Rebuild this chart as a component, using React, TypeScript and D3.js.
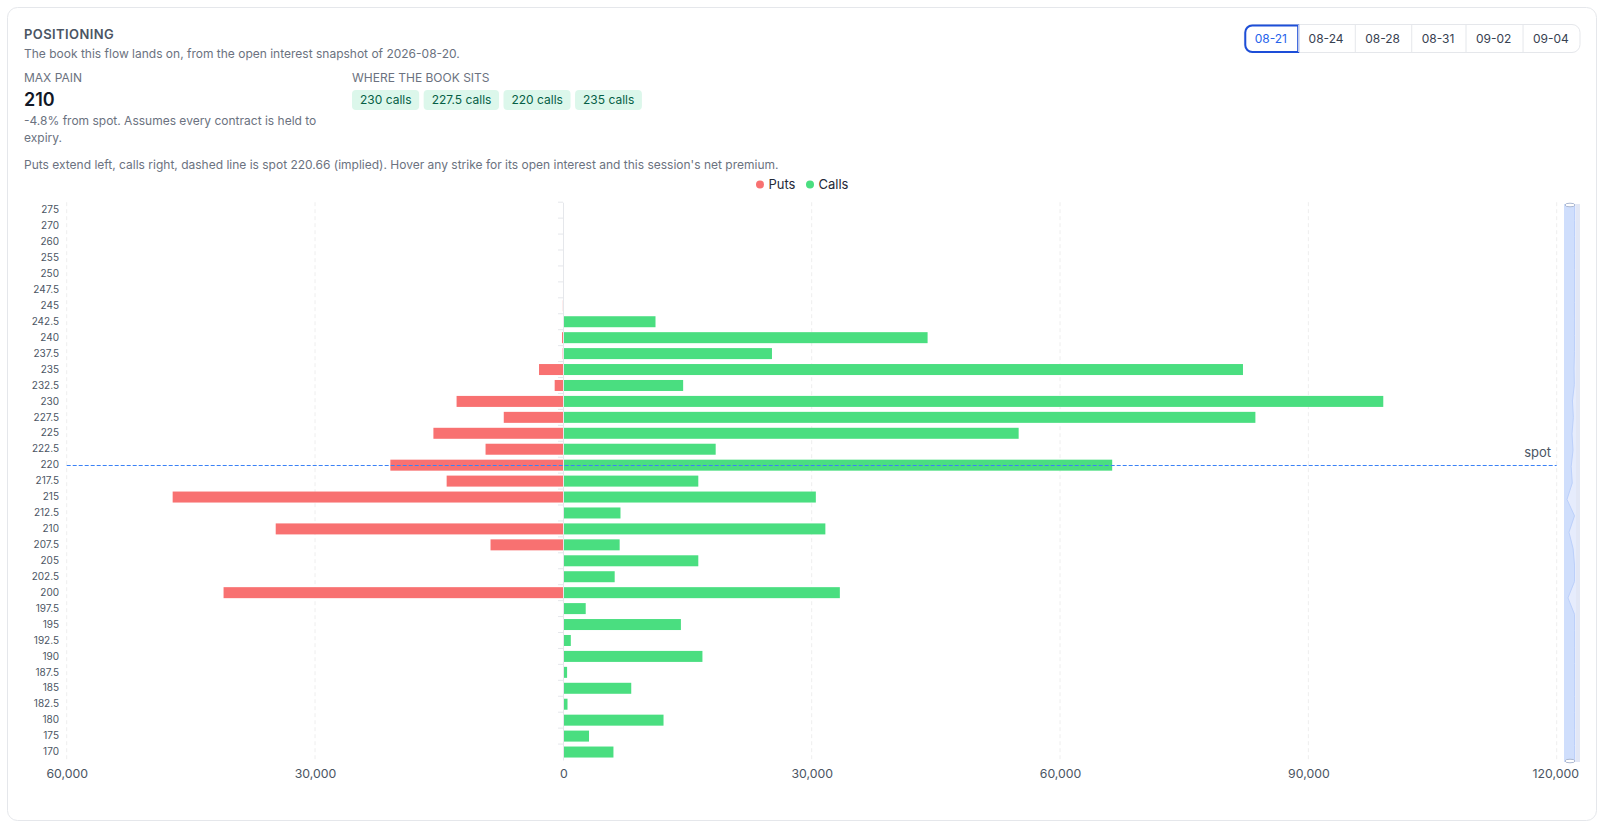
import React from 'react';
import * as d3 from 'd3';

const strikes = ['275', '270', '260', '255', '250', '247.5', '245', '242.5', '240', '237.5', '235', '232.5', '230', '227.5', '225', '222.5', '220', '217.5', '215', '212.5', '210', '207.5', '205', '202.5', '200', '197.5', '195', '192.5', '190', '187.5', '185', '182.5', '180', '175', '170'];
const putsOI = [0, 0, 0, 0, 0, 0, 60, 0, 160, 80, 2940, 1050, 12900, 7200, 15700, 9400, 20900, 14100, 47200, 0, 34750, 8800, 0, 0, 41050, 0, 0, 0, 0, 0, 0, 0, 0, 0, 0];
const callsOI = [0, 0, 0, 0, 0, 0, 0, 11130, 44000, 25200, 82100, 14470, 99050, 83600, 55000, 18400, 66300, 16300, 30500, 6900, 31650, 6800, 16300, 6200, 33400, 2700, 14200, 900, 16800, 450, 8200, 500, 12100, 3100, 6050];
const xTicks = [-60000, -30000, 0, 30000, 60000, 90000, 120000];
const expiries = ['08-21', '08-24', '08-28', '08-31', '09-02', '09-04'];
const bookPills = ['230 calls', '227.5 calls', '220 calls', '235 calls'];

const FONT = 'Inter, sans-serif';
const PUT = '#f87171';
const CALL = '#4ade80';

export default function App() {
  const svgRef = React.useRef<SVGSVGElement>(null);

  React.useEffect(() => {
    const svg = d3.select(svgRef.current);
    svg.selectAll('*').remove();
    svg.style('font-family', FONT);

    svg.append('rect')
      .attr('x', 7.5).attr('y', 7.5).attr('width', 1589).attr('height', 813).attr('rx', 10)
      .attr('fill', '#fff').attr('stroke', '#e5e7eb');

    const text = (x: number, y: number, s: string, size: number, fill: string, weight = 400) =>
      svg.append('text')
        .attr('x', x).attr('y', y).attr('dy', '0.35em')
        .attr('font-size', size).attr('font-weight', weight).attr('fill', fill).text(s);

    text(24, 34, 'POSITIONING', 13, '#4b5563', 600).attr('letter-spacing', 0.4);
    text(24, 54, 'The book this flow lands on, from the open interest snapshot of 2026-08-20.', 12, '#6b7280');
    text(24, 78, 'MAX PAIN', 12, '#6b7280');
    text(24, 100, '210', 18, '#111827', 600);
    text(24, 121, '-4.8% from spot. Assumes every contract is held to', 12, '#6b7280');
    text(24, 138, 'expiry.', 12, '#6b7280');
    text(352, 78, 'WHERE THE BOOK SITS', 12, '#6b7280');
    text(24, 165, "Puts extend left, calls right, dashed line is spot 220.66 (implied). Hover any strike for its open interest and this session's net premium.", 12, '#6b7280');

    // pills, sized from the text
    let px = 352;
    bookPills.forEach((p) => {
      const r = svg.append('rect').attr('y', 90).attr('height', 20).attr('rx', 4).attr('fill', '#dcf7eb');
      const t = text(px + 8, 100, p, 12, '#065f46');
      const w = (t.node() as SVGTextElement).getComputedTextLength() + 15.6;
      r.attr('x', px).attr('width', w);
      px += w + 4.5;
    });

    // expiry buttons, laid out right to left
    const btnTexts = expiries.map((e) => text(0, 38.5, e, 12, e === '08-21' ? '#2563eb' : '#374151'));
    const widths = btnTexts.map((t) => (t.node() as SVGTextElement).getComputedTextLength() + 21.6);
    let bx = 1580 - d3.sum(widths);
    svg.append('rect')
      .attr('x', bx).attr('y', 24.5).attr('width', d3.sum(widths)).attr('height', 28).attr('rx', 8)
      .attr('fill', 'none').attr('stroke', '#e5e7eb');
    expiries.forEach((e, i) => {
      btnTexts[i].attr('x', bx + 10.4);
      if (i > 0) {
        svg.append('line').attr('x1', bx + 0.5).attr('x2', bx + 0.5).attr('y1', 25).attr('y2', 52).attr('stroke', '#e5e7eb');
      }
      if (e === '08-21') {
        svg.append('path')
          .attr('d', `M${bx + widths[i]},25.5H${bx + 8}a7,7 0 0 0 -7,7V45a7,7 0 0 0 7,7H${bx + widths[i]}Z`)
          .attr('fill', 'none').attr('stroke', '#1d4ed8').attr('stroke-width', 2);
      }
      bx += widths[i];
    });

    // legend
    svg.append('circle').attr('cx', 760).attr('cy', 184.5).attr('r', 4).attr('fill', PUT);
    text(768.5, 184.5, 'Puts', 13, '#1f2937');
    svg.append('circle').attr('cx', 810).attr('cy', 184.5).attr('r', 4).attr('fill', CALL);
    text(818.5, 184.5, 'Calls', 13, '#1f2937');

    // chart
    const x = d3.scaleLinear().domain([-60000, 120000]).range([66.7, 1556.7]);
    const y = d3.scaleBand().domain(strikes).range([202.2, 760]);
    const barH = 11;

    svg.append('g').selectAll('line').data(xTicks.filter((d) => d !== 0)).join('line')
      .attr('x1', (d) => x(d)).attr('x2', (d) => x(d))
      .attr('y1', 202.2).attr('y2', 760)
      .attr('stroke', '#eeeeee').attr('stroke-dasharray', '4 3');

    svg.append('g').selectAll('rect').data(strikes).join('rect')
      .attr('x', (d, i) => x(-putsOI[i]))
      .attr('y', (d) => y(d)! + (y.bandwidth() - barH) / 2)
      .attr('width', (d, i) => x(0) - x(-putsOI[i]))
      .attr('height', barH)
      .attr('fill', PUT);

    svg.append('g').selectAll('rect').data(strikes).join('rect')
      .attr('x', x(0))
      .attr('y', (d) => y(d)! + (y.bandwidth() - barH) / 2)
      .attr('width', (d, i) => x(callsOI[i]) - x(0))
      .attr('height', barH)
      .attr('fill', CALL);

    // category axis on the zero line, ticks between bands
    const axisX = Math.floor(x(0));
    const yAxis = d3.axisLeft(y).tickSize(0).tickPadding(axisX - 59);
    const yG = svg.append('g').attr('transform', `translate(${axisX},0)`).call(yAxis);
    yG.select('.domain').attr('stroke', '#e5e7eb');
    yG.selectAll('text').attr('font-size', 10).attr('font-family', FONT).attr('fill', '#4b5563');
    yG.selectAll('line.band').data(strikes).join('line')
      .attr('class', 'band')
      .attr('x1', -5).attr('x2', 0)
      .attr('y1', (d) => y(d)!).attr('y2', (d) => y(d)!)
      .attr('stroke', '#e5e7eb');

    const xAxis = d3.axisBottom(x).tickValues(xTicks).tickSize(0).tickPadding(9)
      .tickFormat((d) => d3.format(',')(Math.abs(+d)));
    const xG = svg.append('g').attr('transform', 'translate(0,760.4)').call(xAxis);
    xG.select('.domain').remove();
    xG.selectAll('text').attr('font-size', 12.3).attr('font-family', FONT).attr('fill', '#4b5563');
    xG.selectAll<SVGTextElement, number>('text').filter((d) => d === 120000).attr('dx', -1.5);

    // spot marker sits on the 220 row
    const spotY = Math.floor(y('220')! + y.bandwidth() / 2) + 0.5;
    svg.append('line')
      .attr('x1', x(-60000)).attr('x2', x(120000)).attr('y1', spotY).attr('y2', spotY)
      .attr('stroke', '#3b82f6').attr('stroke-dasharray', '4 2');
    text(1551, 452.5, 'spot', 13, '#4b5563').attr('text-anchor', 'end');

    // vertical dataZoom slider with the puts shadow
    const sx0 = 1564, sx1 = 1580, sTop = 204, sBot = 762, sFill = 1576;
    svg.append('rect').attr('x', sx0).attr('y', sTop).attr('width', sx1 - sx0).attr('height', sBot - sTop).attr('fill', '#e2e7f5');
    svg.append('rect').attr('x', sx0).attr('y', sTop).attr('width', sFill - sx0).attr('height', sBot - sTop).attr('fill', '#cfdefc');
    const sy = d3.scalePoint().domain(strikes).range([sTop, sBot]);
    const sv = d3.scaleLinear().domain([0, d3.max(putsOI)!]).range([sFill - 1.5, sx0 + 3]);
    const shadow = d3.area<string>()
      .y((d) => sy(d)!)
      .x0(sFill)
      .x1((d, i) => sv(putsOI[i]));
    svg.append('path').attr('d', shadow(strikes)).attr('fill', '#e6ecfc');
    const shadowLine = d3.line<string>().y((d) => sy(d)!).x((d, i) => sv(putsOI[i]));
    svg.append('path').attr('d', shadowLine(strikes)).attr('fill', 'none').attr('stroke', '#bcd0fa');
    [sTop + 1, sBot - 1].forEach((cy) => {
      svg.append('ellipse').attr('cx', 1570).attr('cy', cy).attr('rx', 5).attr('ry', 1.8)
        .attr('fill', '#fff').attr('stroke', '#acb8d1');
    });
  }, []);

  return (
    <svg
      ref={svgRef}
      width={1605}
      height={828}
      style={{ position: 'absolute', left: 0, top: 0 }}
    />
  );
}
